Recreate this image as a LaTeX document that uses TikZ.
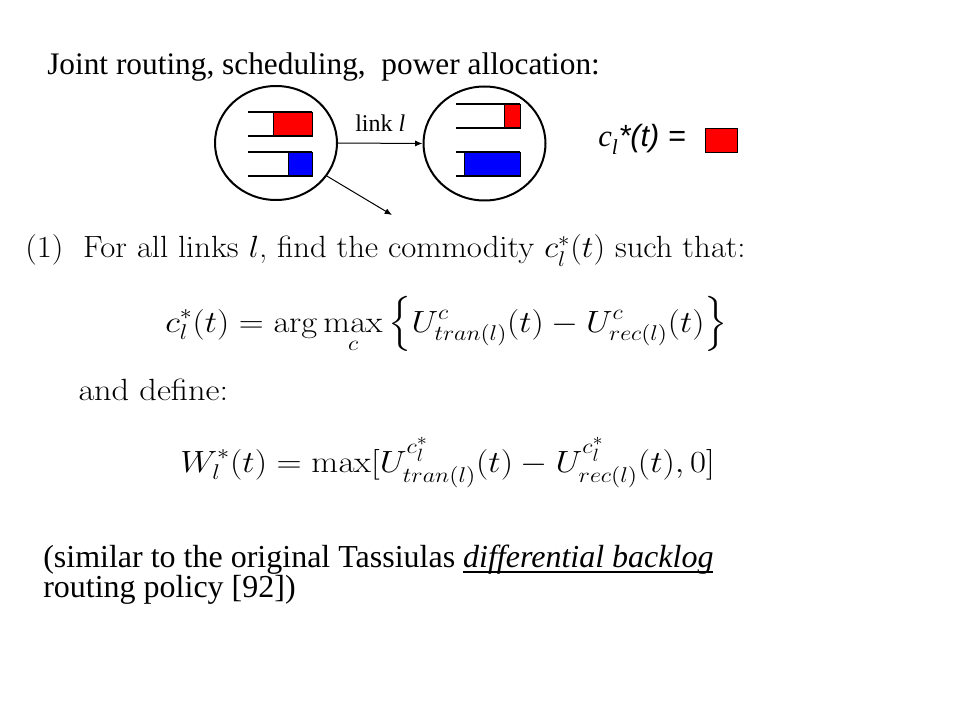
\documentclass[tikz,border=0pt]{standalone}
\usepackage{amsmath}
\usepackage[no-math]{fontspec}
\setmainfont{Liberation Serif}
\newfontfamily\sansfont{Liberation Sans}
\usetikzlibrary{positioning}
\usetikzlibrary{shapes,arrows.meta}
\tikzset{
	station/.style={draw, ellipse, line width=1.5pt, minimum width=91.5pt, minimum height=85.5pt, inner sep=0pt},
	qline/.style={line width=1.5pt},
	link/.style={-{Latex[length=5.5pt, width=4.5pt]}, line width=0.75pt},
	slide/.style={font=\fontsize{24}{29}\selectfont, inner sep=0pt},
	eqn/.style={font=\fontencoding{OT1}\fontfamily{cmr}\fontsize{20.74}{25}\selectfont, inner sep=0pt, yscale=1.11, xscale=#1},
}
% buffer: x start, x end, x fill, y top, y bottom, colour
\newcommand{\qbuffer}[6]{
	\filldraw[fill=#6, draw=black, line width=0.5pt] (#3,#4) rectangle (#2,#5);
	\draw[qline] (#1,#4) -- (#2,#4) (#1,#5) -- (#2,#5);
}
% underline crossing the descenders
\newcommand{\slideul}[1]{\setbox0\hbox{#1}\rlap{\rule[-4.5pt]{\wd0}{1.5pt}}\box0}

\begin{document}
\begin{tikzpicture}[x=0.75pt, y=-0.75pt]
	\useasboundingbox (0,0) rectangle (960,720);
	\node[slide, anchor=base west, font=\fontsize{23.5}{28}\selectfont] (title) at (47,75) {Joint routing, scheduling,~ power allocation:};
	
	\node[station] (tx) at (276,143) {};
	\node[station] (rx) at (484.5,143.5) {};
	\qbuffer{248}{312}{273}{112}{136}{red}
	\qbuffer{248}{312}{288}{152}{176}{blue}
	\qbuffer{456}{520}{504}{104}{128}{red}
	\qbuffer{456}{520}{464}{152}{176}{blue}
	\draw[link] (tx.east) -- (rx.west) node[midway, above=5pt, font=\fontsize{18}{20}\selectfont]{link \textit{l}};
	\coordinate (away) at (392,215);
	\draw[link] (tx.-33) -- (away);
	
	\node[anchor=base west, inner sep=0pt, font=\fontsize{23}{26}\selectfont] (cstar) at (598,147) {\textit{c}\raisebox{-2pt}{$_{\text{\itshape l}}$}{\sansfont\itshape *(t) =}};
	\node[draw, fill=red, line width=0.5pt, minimum width=24pt, minimum height=18pt] (cbox) at (721,140) {};
	
	\node[eqn=1.184, anchor=base west] (step) at (25,258) {(1)\ \ For all links $l$, find the commodity $c_l^*(t)$ such that:};
	\node[eqn=1.249, anchor=base west] (argmax) at (165,332) {$\displaystyle c_l^*(t) = \arg\max_c \Big\{ U^c_{tran(l)}(t) - U^c_{rec(l)}(t) \Big\}$};
	\node[eqn=1.243, anchor=base west] (define) at (78,400) {and define:};
	\node[eqn=1.258, anchor=base west] (weight) at (180,472) {$\displaystyle W_l^*(t) = \max[U^{c_l^*}_{tran(l)}(t) - U^{c_l^*}_{rec(l)}(t), 0]$};
	
	\node[slide, anchor=base west] (note) at (43,567) {(similar to the original Tassiulas \slideul{\textit{differential backlog}}};
	\node[slide, anchor=base west] (note2) at (43,597) {routing policy [92])};
\end{tikzpicture}
\end{document}
